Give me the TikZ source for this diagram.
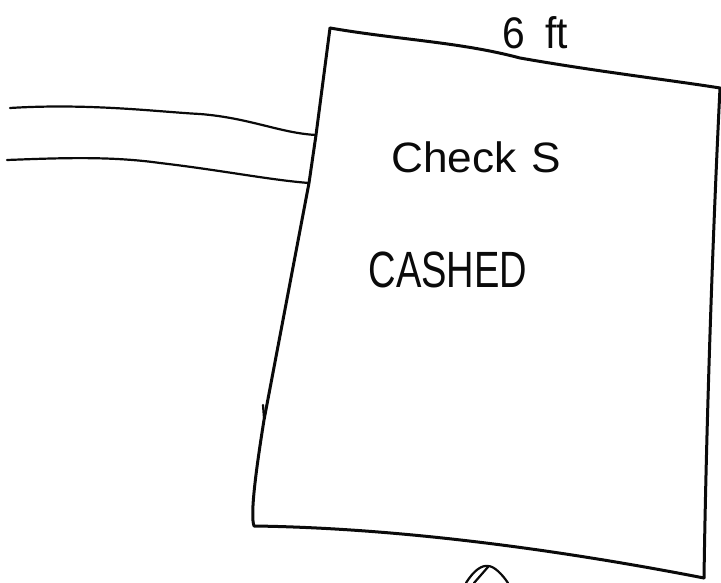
\documentclass[tikz,border=0pt]{standalone}
\usepackage{fontspec}
\setmainfont{Liberation Sans}
\usepackage{tikz}
\usetikzlibrary{calc}
\definecolor{ink}{RGB}{10,10,10}
\tikzset{
  pen/.style   ={draw=ink, line width=3pt, line cap=round, line join=round},
  thin/.style  ={draw=ink, line width=2.2pt, line cap=round},
  hand/.style  ={text=ink, inner sep=0pt, font=\fontsize{34}{38}\selectfont, transform shape}
}

\begin{document}
\begin{tikzpicture}[x=1pt, y=-1pt]
  \useasboundingbox (0,0) rectangle (721,583);
  % the sign board
  \coordinate (tl) at (330,28);
  \coordinate (tr) at (720,88);
  \coordinate (br) at (704,578);
  \coordinate (bl) at (254,526);
  \coordinate (wa) at (316,135);
  \coordinate (wb) at (309,183);
  \draw[pen] (tl) .. controls (400,40) and (460,42) .. (520,58)
    .. controls (600,72) and (670,80) .. (tr);
  \draw[pen] (tl) -- (wa) -- (wb) -- (264,420) .. controls (256,470) and (250,515) .. (bl)
    .. controls (400,528) and (560,550) .. (br);
  \draw[pen] (br) .. controls (706,440) and (712,250) .. (tr);
  \draw[thin] (264,418) -- (263,405);
  % the two wires
  \draw[thin] (10,108) .. controls (90,103) and (160,112) .. (200,114)
    .. controls (250,118) and (280,133) .. (wa);
  \draw[thin] (7,160) .. controls (60,158) and (110,156) .. (160,163)
    .. controls (220,170) and (270,180) .. (wb);
  % the thing below
  \draw[thin] (466,583) .. controls (474,570) and (482,565) .. (488,566)
    .. controls (494,566) and (502,574) .. (508,583);
  \draw[thin] (474,583) -- (488,567);
  % the writing
  \node[hand, xscale=1.2, yscale=1.3]  (size)   at (535,33)  {6\,\,\,ft};
  \node[hand, xscale=1.3, yscale=1.25] (checks) at (476,157) {Check\,\,S};
  \node[hand, xscale=1.12, yscale=1.5] (cashed) at (448,270) {CASHED};
\end{tikzpicture}
\end{document}
